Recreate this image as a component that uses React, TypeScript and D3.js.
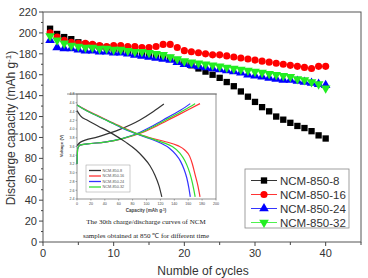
import * as d3 from "d3";

// main plot: discharge capacity vs cycle number
const cycles = d3.range(1, 41);
const ncm8 = [204, 199, 196, 194, 191, 189, 188, 187, 186, 185, 184, 183, 182, 181, 180, 179, 178, 176, 174, 172,
  169, 166, 163, 160, 157, 153, 149, 144, 139, 134, 129, 125, 120, 117, 114, 111, 109, 106, 102, 99];
const ncm16 = [200, 196, 193, 191, 190, 190, 189, 188, 187, 188, 188, 187, 187, 186, 186, 187, 189, 189, 186, 183,
  182, 181, 180, 179, 179, 178, 177, 176, 175, 174, 173, 172, 171, 170, 169, 168, 167, 166, 168, 168];
const ncm24 = [193, 186, 185, 185, 184, 183, 183, 182, 182, 181, 181, 180, 179, 178, 177, 176, 175, 174, 172, 170,
  169, 168, 167, 166, 165, 164, 163, 162, 160, 159, 158, 157, 156, 155, 155, 154, 153, 152, 151, 150];
const ncm32 = [197, 193, 190, 188, 187, 186, 186, 185, 185, 184, 184, 183, 182, 182, 181, 180, 179, 177, 175, 173,
  172, 171, 170, 169, 168, 167, 166, 165, 164, 163, 162, 161, 160, 159, 158, 156, 155, 153, 151, 147];

const seriesNames = ["NCM-850-8", "NCM-850-16", "NCM-850-24", "NCM-850-32"];
const colors = ["#000000", "#ff0000", "#0000ff", "#22ee22"];
const yTicks = d3.range(0, 221, 20);
const xTicks = [0, 10, 20, 30, 40];

// inset: 30th charge/discharge curves
const disCap8 = [0, 5, 15, 30, 50, 70, 85, 95, 105, 112, 118, 122];
const disV8 = [4.42, 4.3, 4.2, 4.07, 3.9, 3.7, 3.52, 3.36, 3.16, 2.95, 2.7, 2.45];
const chgCap8 = [0, 5, 30, 60, 90, 110, 125];
const chgV8 = [3.62, 3.7, 3.82, 3.98, 4.2, 4.4, 4.57];

const disCap16 = [0, 10, 25, 45, 65, 85, 105, 125, 145, 155, 162, 166, 170, 174, 177];
const disV16 = [4.55, 4.46, 4.34, 4.19, 4.04, 3.9, 3.8, 3.72, 3.62, 3.52, 3.38, 3.2, 2.95, 2.7, 2.45];
const disCap24 = [0, 10, 25, 45, 65, 85, 105, 120, 133, 142, 149, 154, 158, 161, 163];
const disV24 = [4.55, 4.45, 4.33, 4.18, 4.02, 3.89, 3.78, 3.68, 3.56, 3.42, 3.26, 3.08, 2.88, 2.65, 2.45];
const disCap32 = [0, 10, 25, 45, 65, 85, 105, 122, 137, 148, 155, 160, 164, 168, 170];
const disV32 = [4.55, 4.45, 4.33, 4.18, 4.03, 3.9, 3.79, 3.7, 3.6, 3.45, 3.28, 3.1, 2.9, 2.62, 2.45];

const chgCap24 = [0, 1, 4, 15, 40, 65, 90, 110, 130, 150, 163];
const chgCap32 = [0, 1, 4, 15, 40, 65, 92, 113, 134, 155, 170];
const chgCap16 = [0, 1, 4, 15, 40, 66, 94, 116, 138, 160, 177];
const chgV = [3.2, 3.55, 3.63, 3.66, 3.7, 3.78, 3.92, 4.08, 4.26, 4.44, 4.58];

const insetYTicks = d3.range(0, 13).map((i) => 2.4 + i * 0.2);
const insetXTicks = d3.range(0, 201, 20);

export default function App() {
  const W = 368;
  const H = 278;
  const x = d3.scaleLinear().domain([0, 45]).range([43, 361]);
  const y = d3.scaleLinear().domain([0, 220]).range([242, 12]);

  const ix = d3.scaleLinear().domain([0, 200]).range([77, 216]);
  const iy = d3.scaleLinear().domain([2.4, 4.8]).range([199, 94]);

  const series = [ncm8, ncm16, ncm24, ncm32];
  const symbols = [
    d3.symbol().type(d3.symbolSquare).size(40)(),
    d3.symbol().type(d3.symbolCircle).size(40)(),
    d3.symbol().type(d3.symbolTriangle).size(40)(),
    d3.symbol().type(d3.symbolTriangle).size(40)(),
  ];
  const rot = [0, 0, 0, 180];

  const line = d3
    .line<[number, number]>()
    .x((d) => ix(d[0]))
    .y((d) => iy(d[1]))
    .curve(d3.curveMonotoneX);

  const curves = [
    { cap: chgCap16, v: chgV, c: "#ff3333" },
    { cap: chgCap24, v: chgV, c: "#3333ff" },
    { cap: chgCap32, v: chgV, c: "#33dd33" },
    { cap: chgCap8, v: chgV8, c: "#333333" },
    { cap: disCap16, v: disV16, c: "#ff3333" },
    { cap: disCap24, v: disV24, c: "#3333ff" },
    { cap: disCap32, v: disV32, c: "#33dd33" },
    { cap: disCap8, v: disV8, c: "#333333" },
  ];
  const insetColors = ["#333333", "#ff3333", "#3333ff", "#33dd33"];

  return (
    <svg width={W} height={H} style={{ position: "absolute", left: 0, top: 0 }} fontFamily="Liberation Sans, Arial, sans-serif">
      <rect width={W} height={H} fill="#fff" />

      {/* main frame */}
      <rect x={43} y={12} width={318} height={230} fill="none" stroke="#555" strokeWidth={1} />

      {/* y axis ticks */}
      {d3.range(0, 221, 10).map((v) => (
        <line key={"ym" + v} x1={43} x2={v % 20 === 0 ? 39 : 41} y1={y(v)} y2={y(v)} stroke="#444" />
      ))}
      {yTicks.map((v) => (
        <text key={"yl" + v} x={37} y={y(v)} dy="0.35em" textAnchor="end" fontSize={11} fill="#333">
          {v}
        </text>
      ))}
      {/* x axis ticks */}
      {d3.range(0, 46, 5).map((v) => (
        <line key={"xm" + v} x1={x(v)} x2={x(v)} y1={242} y2={v % 10 === 0 ? 246 : 245} stroke="#444" />
      ))}
      {xTicks.map((v) => (
        <text key={"xl" + v} x={x(v)} y={257} textAnchor="middle" fontSize={11} fill="#333">
          {v}
        </text>
      ))}

      <text x={203} y={275} textAnchor="middle" fontSize={12} fill="#333">
        Numble of cycles
      </text>
      <text transform="translate(15,128) rotate(-90)" textAnchor="middle" fontSize={12} fill="#333">
        Discharge capacity (mAh g
        <tspan dy={-4} fontSize={8}>-1</tspan>
        <tspan dy={4}>)</tspan>
      </text>

      {/* inset */}
      <rect x={64} y={94} width={156} height={146} fill="#fff" />
      <line x1={67} x2={217} y1={94} y2={94} stroke="#777" strokeWidth={0.8} />
      <rect x={77} y={94} width={139} height={105} fill="none" stroke="#666" strokeWidth={0.7} />
      {insetYTicks.map((v) => (
        <g key={"iy" + v}>
          <line x1={77} x2={75.5} y1={iy(v)} y2={iy(v)} stroke="#555" strokeWidth={0.5} />
          <text x={74.5} y={iy(v)} dy="0.35em" textAnchor="end" fontSize={3.6} fill="#444">
            {v.toFixed(1)}
          </text>
        </g>
      ))}
      {insetXTicks.map((v) => (
        <g key={"ix" + v}>
          <line x1={ix(v)} x2={ix(v)} y1={199} y2={200.5} stroke="#555" strokeWidth={0.5} />
          <text x={ix(v)} y={204.5} textAnchor="middle" fontSize={3.6} fill="#444">
            {v}
          </text>
        </g>
      ))}
      <text x={146} y={212} textAnchor="middle" fontSize={4.6} fontWeight="bold" fill="#444">
        Capacity (mAh g<tspan dy={-1.5} fontSize={3.2}>-1</tspan>
        <tspan dy={1.5}>)</tspan>
      </text>
      <text transform="translate(63,146) rotate(-90)" textAnchor="middle" fontSize={4.4} fontWeight="bold" fill="#444">
        Voltage (V)
      </text>

      {curves.map((c, i) => (
        <path
          key={"c" + i}
          d={line(c.cap.map((cap, j) => [cap, c.v[j]] as [number, number])) || ""}
          fill="none"
          stroke={c.c}
          strokeWidth={1.2}
        />
      ))}

      <rect x={86} y={165} width={44} height={27} fill="#fff" stroke="#999" strokeWidth={0.5} />
      {seriesNames.map((n, i) => (
        <g key={"il" + n} transform={`translate(0,${170.5 + i * 5.5})`}>
          <line x1={89} x2={101} y1={0} y2={0} stroke={insetColors[i]} strokeWidth={1.3} />
          <text x={102.5} y={0} dy="0.35em" fontSize={3.8} fill="#555">
            {n}
          </text>
        </g>
      ))}

      <g fontFamily="Liberation Serif, Times New Roman, serif" fontSize={7} fill="#222" textAnchor="middle">
        <text x={146} y={224}>The 30th charge/discharge curves of NCM</text>
        <text x={146} y={237.5}>samples obtained at 850 ℃ for different time</text>
      </g>

      {/* main data markers */}
      {series.map((s, si) =>
        s.map((v, i) => (
          <path
            key={`m${si}-${i}`}
            d={symbols[si] || ""}
            transform={`translate(${x(cycles[i])},${y(v)}) rotate(${rot[si]})`}
            fill={colors[si]}
          />
        ))
      )}

      {/* legend */}
      <rect x={245} y={169} width={104} height={59} fill="#fff" stroke="#888" strokeWidth={0.8} />
      {seriesNames.map((n, i) => (
        <g key={"lg" + n} transform={`translate(0,${180.5 + i * 14})`}>
          <line x1={251} x2={277} y1={0} y2={0} stroke={colors[i]} strokeWidth={0.8} />
          <path d={symbols[i] || ""} transform={`translate(264,0) rotate(${rot[i]})`} fill={colors[i]} />
          <text x={280} y={0} dy="0.36em" fontSize={11.5} fill="#333">
            {n}
          </text>
        </g>
      ))}
    </svg>
  );
}
